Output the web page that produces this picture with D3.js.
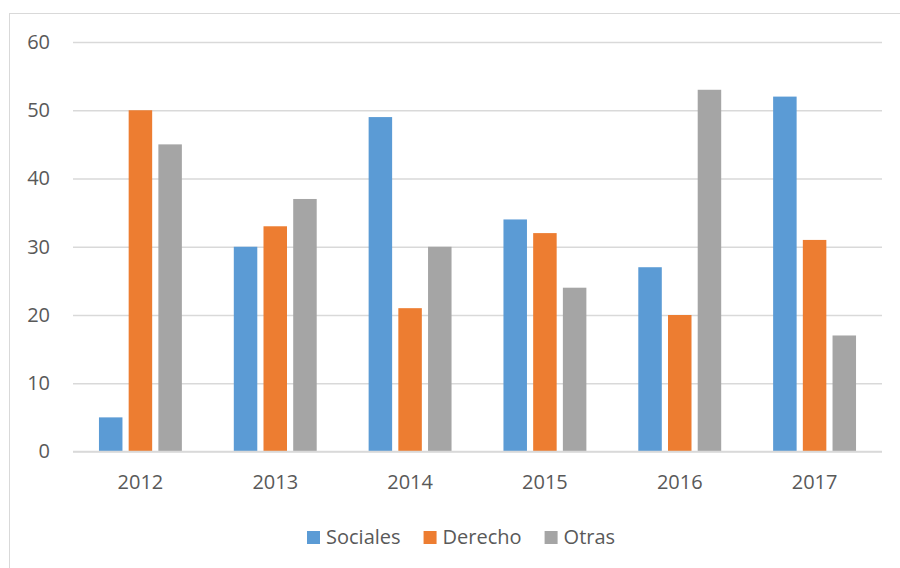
<!DOCTYPE html>
<html><head><meta charset="utf-8">
<script src="https://cdn.jsdelivr.net/npm/d3@7"></script>
<style>body{margin:0;background:#fff}svg{display:block}</style>
</head><body>
<svg id="c" width="900" height="568"></svg>
<script>
const years = ["2012","2013","2014","2015","2016","2017"];
const seriesNames = ["Sociales","Derecho","Otras"];
const sociales = [5,30,49,34,27,52];
const derecho = [50,33,21,32,20,31];
const otras = [45,37,30,24,53,17];
const yTicks = [0,10,20,30,40,50,60];
const colors = ["#5b9bd5","#ed7d31","#a5a5a5"];

const seriesVals = [sociales, derecho, otras];
const svg = d3.select("#c");
const font = "'Open Sans', sans-serif";
const fs = "20px";
const textColor = "#595959";

// chart border
svg.append("rect").attr("x",9.5).attr("y",13.5).attr("width",900).attr("height",600)
  .attr("fill","none").attr("stroke","#d9d9d9").attr("stroke-width",1);

const x0 = d3.scaleBand().domain(years).range([73,882]).paddingInner(0).paddingOuter(0);
const x1 = d3.scaleBand().domain(seriesNames).range([0,x0.bandwidth()]).paddingInner(0.209).paddingOuter(0.874);
const y = d3.scaleLinear().domain([0,60]).range([451.5,42]);

// gridlines
const yAxis = d3.axisLeft(y).tickValues(yTicks).tickSize(-(882-73)).tickPadding(23).tickFormat(d3.format("d"));
const gy = svg.append("g").attr("transform","translate(73,0)").call(yAxis);
gy.select(".domain").remove();
gy.selectAll(".tick line").attr("stroke","#d9d9d9").attr("stroke-width",1.3);
gy.selectAll(".tick text").attr("fill",textColor).style("font-family",font).style("font-size",fs);

// bars
const groups = svg.append("g").selectAll("g").data(years).join("g")
  .attr("transform",d=>`translate(${x0(d)},0)`);
groups.selectAll("rect").data((d,i)=>seriesNames.map((s,j)=>({s, v:seriesVals[j][i], j})))
  .join("rect")
  .attr("x",d=>x1(d.s)).attr("width",x1.bandwidth())
  .attr("y",d=>y(d.v)).attr("height",d=>y(0)-y(d.v))
  .attr("fill",d=>colors[d.j]);

// zero line on top
svg.append("line").attr("x1",73).attr("x2",882).attr("y1",y(0)).attr("y2",y(0))
  .attr("stroke","#d9d9d9").attr("stroke-width",1.3);

// x axis labels
const xAxis = d3.axisBottom(x0).tickSize(0).tickPadding(23);
const gx = svg.append("g").attr("transform",`translate(0,${y(0)})`).call(xAxis);
gx.select(".domain").remove();
gx.selectAll(".tick text").attr("fill",textColor).style("font-family",font).style("font-size",fs);

// legend
const leg = svg.append("g");
let lx = 307;
seriesNames.forEach((s,i)=>{
  leg.append("rect").attr("x",lx).attr("y",531).attr("width",13).attr("height",13).attr("fill",colors[i]);
  const t = leg.append("text").attr("x",lx+19).attr("y",544).text(s)
    .attr("fill",textColor).style("font-family",font).style("font-size",fs);
  lx += 19 + t.node().getComputedTextLength() + 23;
});
</script>
</body></html>
